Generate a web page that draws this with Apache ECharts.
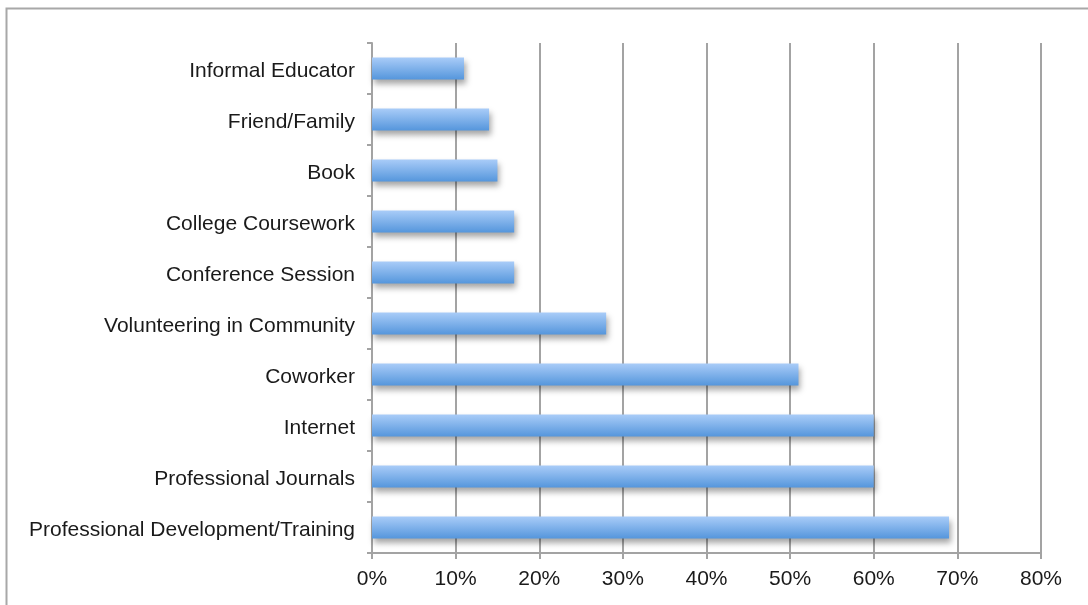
<!DOCTYPE html>
<html>
<head>
<meta charset="utf-8">
<style>
  html, body { margin: 0; padding: 0; background: #fff; }
  #chart { width: 1088px; height: 605px; }
</style>
<script src="https://cdn.jsdelivr.net/npm/echarts@6/dist/echarts.min.js"></script>
</head>
<body>
<div id="chart"></div>
<script>
// Sources listed top to bottom
const categories = [
  'Informal Educator',
  'Friend/Family',
  'Book',
  'College Coursework',
  'Conference Session',
  'Volunteering in Community',
  'Coworker',
  'Internet',
  'Professional Journals',
  'Professional Development/Training'
];
// Share of respondents (%)
const shares = [11, 14, 15, 17, 17, 28, 51, 60, 60, 69];
const axisMax = 80;
const axisStep = 10;

const gridColor = '#a3a3a3';
const fontFamily = '"Liberation Sans", Arial, Helvetica, sans-serif';

const chart = echarts.init(document.getElementById('chart'), null, { renderer: 'canvas' });

chart.setOption({
  backgroundColor: '#ffffff',
  animation: false,
  graphic: [{
    type: 'rect',
    shape: { x: 6.5, y: 8.5, width: 1200, height: 700 },
    style: { fill: 'none', stroke: '#a8a8a8', lineWidth: 2 },
    silent: true
  }],
  grid: { left: 372, right: 47, top: 43, bottom: 52 },
  xAxis: {
    type: 'value',
    min: 0,
    max: axisMax,
    interval: axisStep,
    axisLine: { show: true, lineStyle: { color: gridColor, width: 2 } },
    axisTick: { show: true, length: 6, lineStyle: { color: gridColor, width: 2 } },
    splitLine: { show: true, lineStyle: { color: gridColor, width: 2 } },
    axisLabel: {
      formatter: '{value}%',
      color: '#1a1a1a',
      fontSize: 21,
      fontFamily: fontFamily,
      margin: 16
    }
  },
  yAxis: {
    type: 'category',
    data: categories,
    inverse: true,
    axisLine: { show: true, lineStyle: { color: gridColor, width: 2 } },
    axisTick: { show: true, length: 5, alignWithLabel: false, lineStyle: { color: gridColor, width: 2 } },
    splitLine: { show: false },
    axisLabel: {
      color: '#1a1a1a',
      fontSize: 21,
      fontFamily: fontFamily,
      margin: 17,
      formatter: function (name) { return '{t|' + name + '}'; },
      rich: {
        t: {
          color: '#1a1a1a',
          fontSize: 21,
          fontFamily: fontFamily,
          padding: [5, 0, 0, 0]
        }
      }
    }
  },
  series: [{
    type: 'bar',
    data: shares,
    barWidth: 22,
    itemStyle: {
      color: new echarts.graphic.LinearGradient(0, 0, 0, 1, [
        { offset: 0, color: '#a9ccf8' },
        { offset: 1, color: '#5596dc' }
      ]),
      shadowColor: 'rgba(0,0,0,0.35)',
      shadowBlur: 6,
      shadowOffsetX: 2,
      shadowOffsetY: 4
    }
  }]
});
</script>
</body>
</html>
